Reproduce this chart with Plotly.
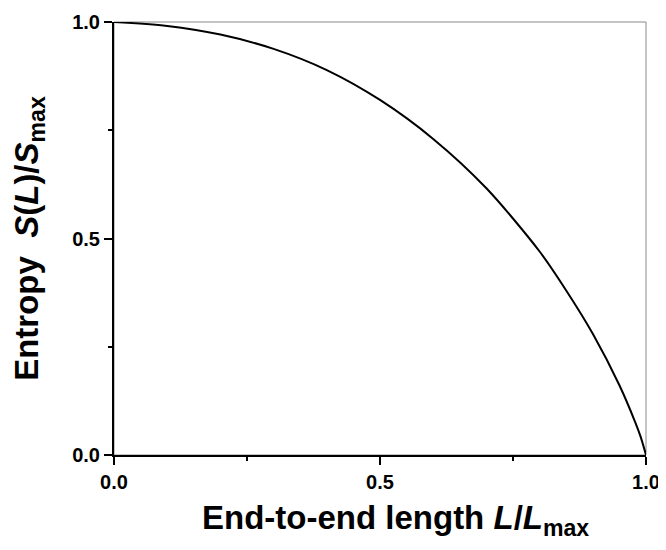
import plotly.graph_objects as go

# Values
length_ratio = [0.0, 0.1, 0.2, 0.3, 0.4, 0.5, 0.6, 0.7, 0.8, 0.85, 0.9, 0.95, 0.98, 0.99, 1.0]
entropy_ratio = [1.0, 0.991, 0.971, 0.938, 0.889, 0.820, 0.730, 0.616, 0.470, 0.380,
                 0.280, 0.161, 0.075, 0.042, 0.0]
tick_vals = [0.0, 0.5, 1.0]
tick_text = ["0.0", "0.5", "1.0"]
x_title = "End-to-end length <i>L</i>/<i>L</i><sub>max</sub>"
y_title = "Entropy  <i>S</i>(<i>L</i>)/<i>S</i><sub>max</sub>"

FONT = "Liberation Sans, Arial, sans-serif"

fig = go.Figure()
fig.add_trace(go.Scatter(
    x=length_ratio, y=entropy_ratio, mode="lines",
    line=dict(color="black", width=2, shape="spline", smoothing=0.8),
    showlegend=False, hoverinfo="skip"))

axis_common = dict(
    range=[0, 1], showgrid=False, zeroline=False, automargin=False,
    showline=True, linecolor="black", linewidth=2,
    ticks="outside", ticklen=8, tickwidth=1.5, tickcolor="black",
    tickmode="array", tickvals=tick_vals, ticktext=tick_text,
    tickfont=dict(family=FONT, size=20, color="black", weight="bold"),
    minor=dict(tickvals=[0.25, 0.75], ticks="outside", ticklen=4, tickwidth=1.5, tickcolor="black"),
)
title_font = dict(family=FONT, size=33, color="black", weight="bold")

fig.update_xaxes(**axis_common)
fig.update_yaxes(**axis_common, title=dict(text=y_title, font=title_font, standoff=25))

fig.add_shape(type="rect", xref="x domain", yref="y domain", x0=0, x1=1, y0=0, y1=1,
              line=dict(color="#888888", width=1), layer="below")

fig.add_annotation(text=x_title, xref="paper", yref="paper", x=0.530, y=-0.150,
                   xanchor="center", yanchor="middle", showarrow=False, font=title_font)

# page body adds an 8px margin, so the figure is 8px smaller and margins shifted
fig.update_layout(
    width=658, height=542,
    margin=dict(l=106, r=20, t=14, b=95),
    plot_bgcolor="white", paper_bgcolor="white",
)

fig.write_html("out.html")
